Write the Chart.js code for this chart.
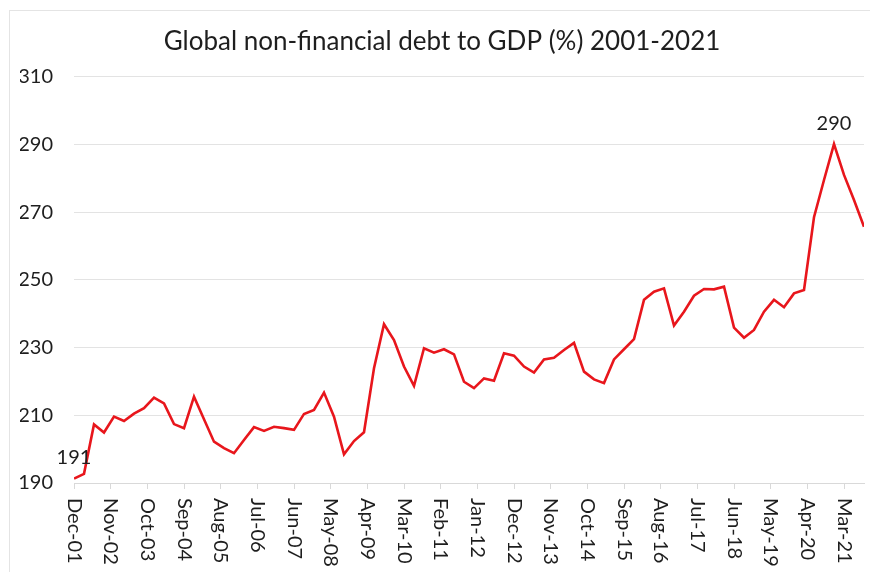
<!DOCTYPE html>
<html><head><meta charset="utf-8">
<script src="https://cdn.jsdelivr.net/npm/chart.js@4.4.0/dist/chart.umd.min.js"></script>
<style>
html,body{margin:0;padding:0;background:#fff;}
#wrap{position:relative;width:870px;height:572px;overflow:hidden;}
#frame{position:absolute;left:9px;top:10px;width:900px;height:600px;border-left:1px solid #e4e4e4;border-top:1px solid #e4e4e4;pointer-events:none;}
canvas{position:absolute;left:0;top:0;}
</style></head><body>
<div id="wrap"><canvas id="c" width="870" height="572"></canvas><div id="frame"></div></div>
<script>
const chartTitle = 'Global non-financial debt to GDP (%) 2001-2021';
const firstQuarter = 'Dec-01';
const tickLabels = ['Dec-01','Nov-02','Oct-03','Sep-04','Aug-05','Jul-06','Jun-07','May-08','Apr-09','Mar-10','Feb-11','Jan-12','Dec-12','Nov-13','Oct-14','Sep-15','Aug-16','Jul-17','Jun-18','May-19','Apr-20','Mar-21'];
// quarterly values, Dec-01 .. Sep-21
const debtToGdp = [
  191.3, 192.7, 207.3, 204.9, 209.6, 208.3, 210.5, 212.1, 215.2, 213.5,
  207.4, 206.2, 215.5, 208.8, 202.2, 200.3, 198.8, 202.7, 206.5, 205.4,
  206.6, 206.2, 205.7, 210.4, 211.6, 216.7, 209.6, 198.5, 202.4, 205.0,
  223.9, 236.9, 232.2, 224.4, 218.7, 229.8, 228.5, 229.5, 228.0, 219.9,
  218.0, 220.9, 220.2, 228.3, 227.6, 224.4, 222.6, 226.5, 227.0, 229.3,
  231.4, 222.9, 220.6, 219.5, 226.5, 229.5, 232.5, 244.1, 246.5, 247.5,
  236.5, 240.6, 245.3, 247.3, 247.2, 248.0, 235.9, 232.9, 235.2, 240.6,
  244.1, 241.9, 246.0, 247.0, 268.5, 279.5, 290.1, 281.0, 273.6, 265.7
];
const yTicks = [190, 210, 230, 250, 270, 290, 310];
const annotatedIdx = [0, 76];

const MONTHS = ['Jan','Feb','Mar','Apr','May','Jun','Jul','Aug','Sep','Oct','Nov','Dec'];
function monthNum(lbl){ const p = lbl.split('-'); return (2000 + parseInt(p[1],10))*12 + MONTHS.indexOf(p[0]); }
const base = monthNum(firstQuarter);
const points = debtToGdp.map((v,i)=>({x: i*3, y: v}));
const FONT = 'Lato';
const TXT = '#1e1e1e';

const labelPlugin = {
  id: 'customLabels',
  afterDraw(chart){
    const ctx = chart.ctx;
    const xs = chart.scales.x;
    ctx.save();
    ctx.font = '20px ' + FONT;
    ctx.fillStyle = TXT;
    xs.ticks.forEach((t,i)=>{
      const x = xs.getPixelForValue(t.value);
      ctx.save();
      ctx.translate(x, 498);
      ctx.rotate(Math.PI/2);
      ctx.textAlign = 'left';
      ctx.textBaseline = 'middle';
      ctx.fillText(tickLabels[i], 0, 0);
      ctx.restore();
    });
    const meta = chart.getDatasetMeta(0);
    ctx.textAlign = 'center';
    ctx.textBaseline = 'middle';
    annotatedIdx.forEach(i=>{
      const el = meta.data[i];
      ctx.fillText(String(Math.round(debtToGdp[i])), el.x, el.y - 21);
    });
    ctx.restore();
  }
};

new Chart(document.getElementById('c'), {
  type: 'line',
  data: { datasets: [{ data: points, borderColor: '#e8161c', borderWidth: 2.6, pointRadius: 0, tension: 0, fill: false }] },
  options: {
    responsive: false, animation: false, devicePixelRatio: 1,
    layout: { padding: { left: 20, right: 6, top: 0, bottom: 0 } },
    plugins: {
      legend: { display: false }, tooltip: { enabled: false },
      title: { display: true, text: chartTitle, color: TXT, font: { family: FONT, size: 26, weight: 'normal' }, padding: { top: 26, bottom: 19.5 } }
    },
    scales: {
      x: {
        type: 'linear', min: 0, max: (debtToGdp.length - 1) * 3,
        afterBuildTicks: s => { s.ticks = tickLabels.map(l => ({ value: monthNum(l) - base })); },
        afterFit: s => { s.height = 89; },
        ticks: { display: false },
        grid: { drawOnChartArea: false, drawTicks: true, tickLength: 6, color: '#d9d9d9' },
        border: { display: true, color: '#d9d9d9', width: 1 }
      },
      y: {
        min: 190, max: 310,
        afterBuildTicks: s => { s.ticks = yTicks.map(v => ({ value: v })); },
        afterFit: s => { s.width = 54; },
        ticks: { padding: 21, color: TXT, font: { family: FONT, size: 20 } },
        grid: { drawTicks: false, color: '#e3e3e3' },
        border: { display: false }
      }
    }
  },
  plugins: [labelPlugin]
});
</script>
</body></html>
